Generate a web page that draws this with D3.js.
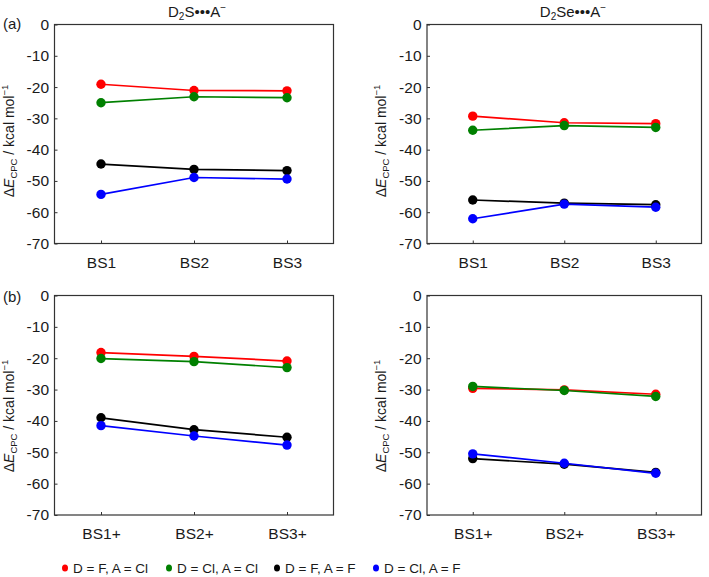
<!DOCTYPE html>
<html><head><meta charset="utf-8">
<script src="https://cdn.jsdelivr.net/npm/d3@7"></script>
<style>
body{margin:0;background:#fff;}
svg{display:block;font-family:Arial,"Liberation Sans",sans-serif;}
</style></head>
<body><svg id="c" width="709" height="577"></svg>
<script>
// ---------- data ----------
const catsTop = ["BS1", "BS2", "BS3"];
const catsBottom = ["BS1+", "BS2+", "BS3+"];
const yTicks = [0, -10, -20, -30, -40, -50, -60, -70];
const seriesNames = ["D = F, A = Cl", "D = Cl, A = Cl", "D = F, A = F", "D = Cl, A = F"];
const seriesColors = ["#ff0000", "#008000", "#000000", "#0000ff"];

// (a) D2S
const aS_FCl  = [-19.1, -21.1, -21.2];
const aS_ClCl = [-25.0, -23.1, -23.4];
const aS_FF   = [-44.6, -46.3, -46.7];
const aS_ClF  = [-54.3, -48.9, -49.4];
// (a) D2Se
const aSe_FCl  = [-29.3, -31.4, -31.7];
const aSe_ClCl = [-33.8, -32.3, -32.9];
const aSe_FF   = [-56.1, -57.1, -57.6];
const aSe_ClF  = [-62.1, -57.4, -58.4];
// (b) D2S
const bS_FCl  = [-18.2, -19.4, -20.9];
const bS_ClCl = [-20.1, -21.1, -23.0];
const bS_FF   = [-39.0, -42.8, -45.2];
const bS_ClF  = [-41.5, -44.8, -47.7];
// (b) D2Se
const bSe_FCl  = [-29.6, -30.1, -31.5];
const bSe_ClCl = [-29.0, -30.3, -32.2];
const bSe_FF   = [-52.0, -53.8, -56.4];
const bSe_ClF  = [-50.5, -53.5, -56.7];

// ---------- layout ----------
const svg = d3.select("#c");
const panels = [
  {x0: 54.5, x1: 333.5, y0: 24.5, y1: 243.5, cats: catsTop, series: [aS_FCl, aS_ClCl, aS_FF, aS_ClF], labelY: 141},
  {x0: 427, x1: 701.5, y0: 24.5, y1: 243.5, cats: catsTop, series: [aSe_FCl, aSe_ClCl, aSe_FF, aSe_ClF], labelY: 141},
  {x0: 54.5, x1: 333.5, y0: 295.5, y1: 515, cats: catsBottom, series: [bS_FCl, bS_ClCl, bS_FF, bS_ClF], labelY: 416},
  {x0: 427, x1: 701.5, y0: 295.5, y1: 515, cats: catsBottom, series: [bSe_FCl, bSe_ClCl, bSe_FF, bSe_ClF], labelY: 416}
];

panels.forEach(p => {
  const x = d3.scalePoint().domain(p.cats).range([p.x0, p.x1]).padding(0.5);
  const y = d3.scaleLinear().domain([-70, 0]).range([p.y1, p.y0]);
  const g = svg.append("g");

  const ya = g.append("g").attr("transform", `translate(${p.x0},0)`)
    .call(d3.axisLeft(y).tickValues(yTicks).tickSizeInner(-3).tickSizeOuter(0).tickPadding(5.5).tickFormat(d3.format("d")));
  const xa = g.append("g").attr("transform", `translate(0,${p.y1})`)
    .call(d3.axisBottom(x).tickSizeInner(-3).tickSizeOuter(0).tickPadding(13));
  [ya, xa].forEach(a => {
    a.select(".domain").remove();
    a.selectAll("line").attr("stroke", "#333");
    a.selectAll("text").attr("font-size", 15.5).attr("fill", "#1a1a1a").attr("font-family", "Arial, 'Liberation Sans', sans-serif");
  });
  ya.selectAll("text").text(d => d === 0 ? "0" : "-" + Math.abs(d));

  g.append("rect").attr("x", p.x0).attr("y", p.y0).attr("width", p.x1 - p.x0).attr("height", p.y1 - p.y0)
    .attr("fill", "none").attr("stroke", "#333").attr("stroke-width", 1.2);

  const line = d3.line().x((d, i) => x(p.cats[i])).y(d => y(d));
  p.series.forEach((s, k) => {
    g.append("path").datum(s).attr("d", line).attr("fill", "none")
      .attr("stroke", seriesColors[k]).attr("stroke-width", 1.7);
    g.selectAll(null).data(s).enter().append("circle")
      .attr("cx", (d, i) => x(p.cats[i])).attr("cy", d => y(d)).attr("r", 4.7)
      .attr("fill", seriesColors[k]);
  });

  // y label
  const lx = p.x0 - 41;
  const t = g.append("text").attr("transform", `translate(${lx},${p.labelY}) rotate(-90)`)
    .attr("text-anchor", "middle").attr("font-size", 14).attr("fill", "#1a1a1a");
  t.append("tspan").text("Δ");
  t.append("tspan").attr("font-style", "italic").text("E");
  t.append("tspan").attr("font-size", 9.5).attr("baseline-shift", "-3").text("CPC");
  t.append("tspan").text(" / kcal mol");
  t.append("tspan").attr("font-size", 9.5).attr("baseline-shift", "6").text("−1");
});

// titles
function title(xc, parts) {
  const t = svg.append("text").attr("x", xc).attr("y", 17).attr("text-anchor", "middle")
    .attr("font-size", 15).attr("fill", "#1a1a1a");
  t.append("tspan").text("D");
  t.append("tspan").attr("font-size", 10).attr("baseline-shift", "-3").text("2");
  t.append("tspan").text(parts);
  t.append("tspan").attr("font-size", 10).attr("baseline-shift", "6").text("−");
}
title(197, "S•••A");
title(573, "Se•••A");

svg.append("text").attr("x", 3).attr("y", 29).attr("font-size", 15).attr("fill", "#1a1a1a").text("(a)");
svg.append("text").attr("x", 3).attr("y", 302).attr("font-size", 15).attr("fill", "#1a1a1a").text("(b)");

// legend
const legX = [65, 169, 277, 376];
const leg = svg.append("g");
seriesNames.forEach((n, k) => {
  leg.append("ellipse").attr("cx", legX[k]).attr("cy", 568).attr("rx", 3).attr("ry", 3.6).attr("fill", seriesColors[k]);
  leg.append("text").attr("x", legX[k] + 8).attr("y", 568).attr("dy", "0.36em")
    .attr("font-size", 13.5).attr("fill", "#1a1a1a").text(n);
});
</script></body></html>
